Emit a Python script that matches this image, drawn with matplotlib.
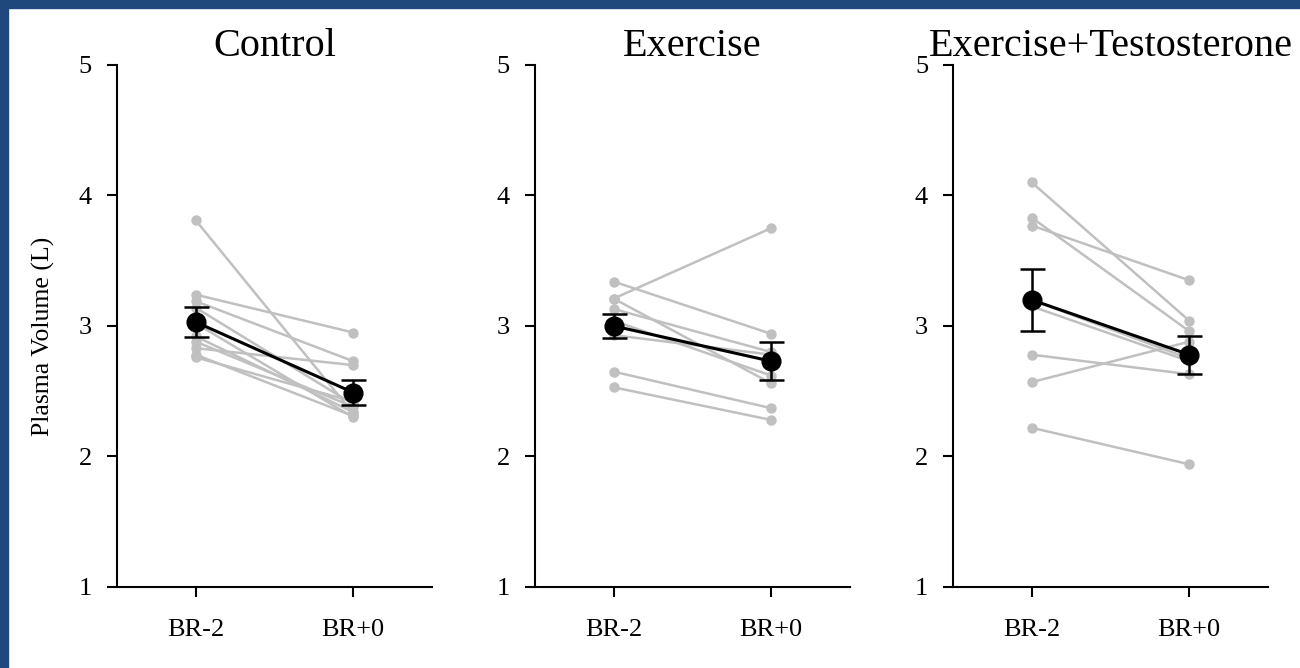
import matplotlib.pyplot as plt
from matplotlib.patches import Rectangle

plt.rcParams["font.family"] = ["Liberation Serif", "DejaVu Serif"]

groups = ["Control", "Exercise", "Exercise+Testosterone"]
timepoints = ["BR-2", "BR+0"]

# individual subjects (BR-2, BR+0)
control_pre = [3.81, 3.24, 3.19, 3.14, 3.02, 2.92, 2.88, 2.83, 2.78, 2.76]
control_post = [2.33, 2.95, 2.73, 2.40, 2.30, 2.34, 2.38, 2.70, 2.31, 2.42]

exercise_pre = [3.34, 3.21, 3.21, 3.13, 3.04, 2.93, 2.65, 2.53]
exercise_post = [2.94, 3.75, 2.56, 2.80, 2.62, 2.78, 2.37, 2.28]

ext_pre = [4.10, 3.83, 3.77, 3.20, 3.15, 2.78, 2.57, 2.22]
ext_post = [3.04, 2.96, 3.35, 2.75, 2.73, 2.63, 2.88, 1.94]

# group mean and SE
means = [[3.03, 2.49], [3.00, 2.73], [3.20, 2.78]]
sems = [[0.115, 0.095], [0.09, 0.145], [0.235, 0.145]]

subjects = [
    (control_pre, control_post),
    (exercise_pre, exercise_post),
    (ext_pre, ext_post),
]

fig = plt.figure(figsize=(13, 6.68), dpi=100)
lefts = [0.09, 0.4115, 0.7331]

for i, name in enumerate(groups):
    ax = fig.add_axes([lefts[i], 0.1213, 0.2423, 0.7814])
    pre, post = subjects[i]
    for a, b in zip(pre, post):
        ax.plot([0, 1], [a, b], color="#c0c0c0", lw=1.8,
                marker="o", ms=6.5, mec="#c0c0c0", mfc="#c0c0c0", zorder=2)
    ax.errorbar([0, 1], means[i], yerr=sems[i], color="black", lw=2.2,
                marker="o", ms=13.5, capsize=9, capthick=1.8, elinewidth=1.8,
                zorder=3)
    ax.set_xlim(-0.5, 1.5)
    ax.set_ylim(1, 5)
    ax.set_xticks([0, 1])
    ax.set_xticklabels(timepoints)
    ax.set_yticks([1, 2, 3, 4, 5])
    ax.spines["top"].set_visible(False)
    ax.spines["right"].set_visible(False)
    ax.spines["left"].set_linewidth(1.5)
    ax.spines["bottom"].set_linewidth(1.5)
    ax.tick_params(axis="both", direction="out", length=7, width=1.5,
                   labelsize=19)
    ax.tick_params(axis="y", pad=11)
    ax.tick_params(axis="x", pad=16)
    ax.set_title(name, fontsize=29, pad=6)
    if i == 0:
        ax.set_ylabel("Plasma Volume (L)", fontsize=18.5, labelpad=17)
        ax.yaxis.label.set_y(0.48)

# blue frame on the left and top edges
fig.patches.append(Rectangle((0, 0), 8 / 1300, 1, transform=fig.transFigure,
                             color="#1f497d", zorder=10))
fig.patches.append(Rectangle((0, 1 - 8 / 668), 1, 8 / 668,
                             transform=fig.transFigure, color="#1f497d",
                             zorder=10))

fig.savefig("out.png", dpi=100)
